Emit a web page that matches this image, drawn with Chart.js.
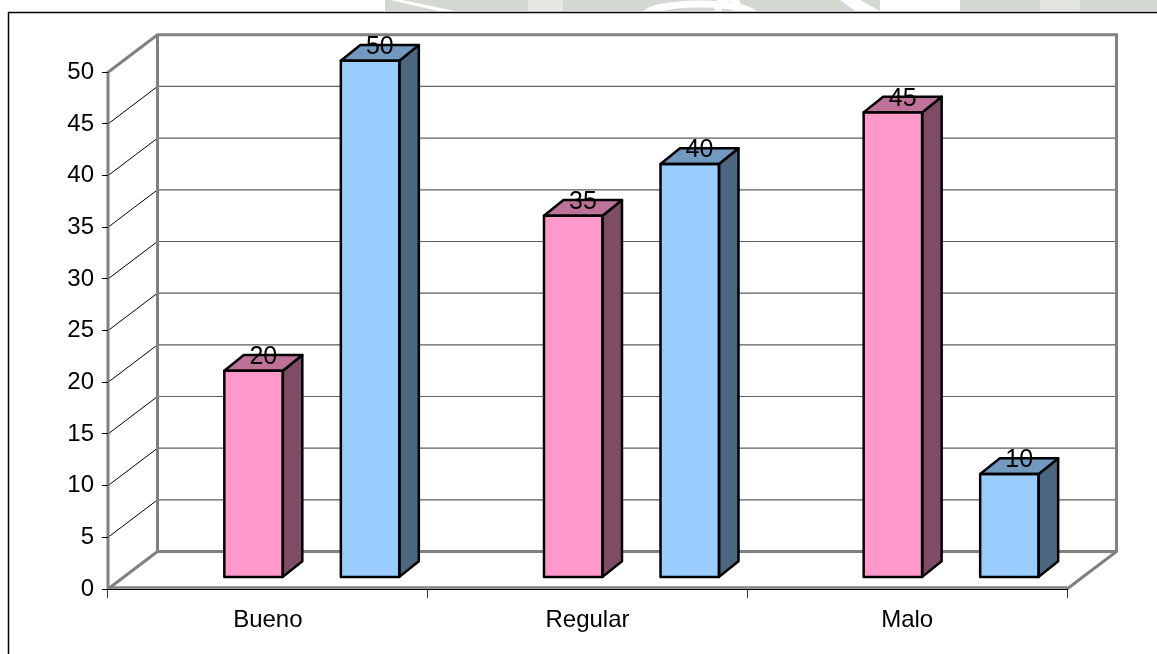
<!DOCTYPE html>
<html>
<head>
<meta charset="utf-8">
<script src="https://cdn.jsdelivr.net/npm/chart.js@4.4.0/dist/chart.umd.min.js"></script>
<style>
  html, body { margin: 0; padding: 0; background: #fff; }
  #wrap { position: relative; width: 1157px; height: 654px; }
  canvas { display: block; }
</style>
</head>
<body>
<div id="wrap"><canvas id="chart" width="1157" height="654"></canvas></div>
<script>
// Data
const categories = ['Bueno', 'Regular', 'Malo'];
const pinkValues = [20, 35, 45];
const blueValues = [50, 40, 10];
const yMin = 0;
const yMax = 50;
const yStep = 5;

// Colours: front face, side (50%) and top (75%) shades
const pinkColors = { front: '#ff99cc', side: '#7f4c66', top: '#bf7299' };
const blueColors = { front: '#99ccff', side: '#4c667f', top: '#7299bf' };

// 3D geometry (oblique projection)
const WALL_DX = 49.5;
const WALL_DY = -37.5;
const BAR_DX = 19.5;
const BAR_DY = -15.7;
const BAR_SHIFT_X = 44;
const BAR_SHIFT_Y = -11.6;
const WALL_GRAY = '#808080';

function line(ctx, x1, y1, x2, y2) {
  ctx.beginPath();
  ctx.moveTo(x1, y1);
  ctx.lineTo(x2, y2);
  ctx.stroke();
}

// faint background print showing above the frame
function drawWatermark(ctx) {
  ctx.save();
  ctx.fillStyle = '#d3d8d0';
  ctx.fillRect(385, 0, 772, 11);
  ctx.fillStyle = '#ffffff';
  ctx.beginPath();
  ctx.moveTo(390, 0); ctx.lineTo(402, 0); ctx.lineTo(455, 11); ctx.lineTo(438, 11);
  ctx.fill();
  ctx.fillStyle = '#e6e8e4';
  ctx.fillRect(528, 0, 35, 11);
  ctx.beginPath();
  ctx.ellipse(700, 16, 55, 12, 0, Math.PI, 2 * Math.PI);
  ctx.lineWidth = 7;
  ctx.strokeStyle = '#ffffff';
  ctx.stroke();
  ctx.beginPath();
  ctx.arc(728, 8, 10, 0, Math.PI * 2);
  ctx.stroke();
  ctx.fillStyle = '#ffffff';
  ctx.beginPath();
  ctx.moveTo(840, 0); ctx.lineTo(860, 0); ctx.lineTo(880, 11); ctx.lineTo(855, 11);
  ctx.fill();
  ctx.fillRect(880, 0, 80, 11);
  ctx.fillStyle = '#e2e5e0';
  ctx.fillRect(1040, 0, 40, 11);
  ctx.restore();
}

const box3d = {
  id: 'box3d',
  beforeDraw(chart) {
    const ctx = chart.ctx;
    const xs = chart.scales.x;
    const ys = chart.scales.y;
    const left = xs.left, right = xs.right;
    const y0 = ys.getPixelForValue(yMin);
    const yTop = ys.getPixelForValue(yMax);

    ctx.save();
    ctx.fillStyle = '#fff';
    ctx.fillRect(0, 0, chart.width, chart.height);
    drawWatermark(ctx);

    // outer frame
    ctx.strokeStyle = '#000';
    ctx.lineWidth = 1.5;
    line(ctx, 8, 12.5, chart.width, 12.5);
    line(ctx, 8.5, 12, 8.5, chart.height);

    // gridlines: back wall and the side-wall diagonals
    for (let v = yMin + yStep; v < yMax; v += yStep) {
      const y = ys.getPixelForValue(v);
      ctx.strokeStyle = '#5e5e5e';
      ctx.lineWidth = 1.2;
      line(ctx, left + WALL_DX, y + WALL_DY, right + WALL_DX, y + WALL_DY);
      ctx.strokeStyle = '#000';
      ctx.lineWidth = 1;
      line(ctx, left, y, left + WALL_DX, y + WALL_DY);
    }

    // wall and floor edges
    ctx.strokeStyle = WALL_GRAY;
    ctx.lineWidth = 3;
    ctx.lineJoin = 'miter';
    ctx.beginPath();
    ctx.moveTo(left, y0);
    ctx.lineTo(left, yTop);
    ctx.lineTo(left + WALL_DX, yTop + WALL_DY);
    ctx.lineTo(right + WALL_DX, yTop + WALL_DY);
    ctx.lineTo(right + WALL_DX, y0 + WALL_DY);
    ctx.lineTo(right, y0);
    ctx.stroke();
    line(ctx, left + WALL_DX, yTop + WALL_DY, left + WALL_DX, y0 + WALL_DY);
    line(ctx, left, y0, left + WALL_DX, y0 + WALL_DY);
    line(ctx, left + WALL_DX, y0 + WALL_DY, right + WALL_DX, y0 + WALL_DY);
    ctx.lineWidth = 2.5;
    line(ctx, left, y0 - 1.5, right, y0 - 1.5);
    ctx.restore();
  },
  beforeDatasetsDraw(chart) {
    chart.ctx.save();
    chart.ctx.translate(BAR_SHIFT_X, BAR_SHIFT_Y);
  },
  afterDatasetsDraw(chart) {
    const ctx = chart.ctx;
    ctx.lineWidth = 2.5;
    ctx.lineJoin = 'round';
    ctx.strokeStyle = '#000';
    chart.data.datasets.forEach((ds, i) => {
      const meta = chart.getDatasetMeta(i);
      meta.data.forEach((bar) => {
        const { x, y, base, width } = bar.getProps(['x', 'y', 'base', 'width'], true);
        const l = x - width / 2, r = x + width / 2;
        // side face
        ctx.fillStyle = ds.shade.side;
        ctx.beginPath();
        ctx.moveTo(r, y);
        ctx.lineTo(r + BAR_DX, y + BAR_DY);
        ctx.lineTo(r + BAR_DX, base + BAR_DY);
        ctx.lineTo(r, base);
        ctx.closePath();
        ctx.fill();
        ctx.stroke();
        // top face
        ctx.fillStyle = ds.shade.top;
        ctx.beginPath();
        ctx.moveTo(l, y);
        ctx.lineTo(l + BAR_DX, y + BAR_DY);
        ctx.lineTo(r + BAR_DX, y + BAR_DY);
        ctx.lineTo(r, y);
        ctx.closePath();
        ctx.fill();
        ctx.stroke();
        // front outline
        ctx.strokeRect(l, y, width, base - y);
      });
    });
    // value labels sit on the top faces
    ctx.fillStyle = '#000';
    ctx.font = '25px "Liberation Sans", Arial, sans-serif';
    ctx.textAlign = 'center';
    ctx.textBaseline = 'alphabetic';
    chart.data.datasets.forEach((ds, i) => {
      chart.getDatasetMeta(i).data.forEach((bar, j) => {
        const { x, y } = bar.getProps(['x', 'y'], true);
        ctx.fillText(String(ds.data[j]), x + BAR_DX / 2, y + BAR_DY / 2 + 1);
      });
    });
    ctx.restore();
  }
};

Chart.defaults.font.family = '"Liberation Sans", Arial, sans-serif';
Chart.defaults.color = '#000';

new Chart(document.getElementById('chart'), {
  type: 'bar',
  data: {
    labels: categories,
    datasets: [
      { data: pinkValues, backgroundColor: pinkColors.front, shade: pinkColors,
        borderWidth: 0, clip: false, categoryPercentage: 0.729, barPercentage: 0.502 },
      { data: blueValues, backgroundColor: blueColors.front, shade: blueColors,
        borderWidth: 0, clip: false, categoryPercentage: 0.729, barPercentage: 0.502 }
    ]
  },
  options: {
    responsive: false,
    animation: false,
    layout: { padding: { left: 8, top: 72.3, right: 90, bottom: 0 } },
    plugins: { legend: { display: false }, tooltip: { enabled: false } },
    scales: {
      x: {
        offset: true,
        grid: { offset: true, drawOnChartArea: false, drawTicks: true, tickLength: 9, color: '#333' },
        border: { display: true, color: '#000', width: 1 },
        ticks: { font: { size: 24 }, color: '#000', padding: 8 },
        afterFit(scale) { scale.height = 65; }
      },
      y: {
        min: yMin,
        max: yMax,
        grid: { drawOnChartArea: false, drawTicks: true, tickLength: 6, color: '#000' },
        border: { display: false },
        ticks: { stepSize: yStep, font: { size: 24 }, color: '#000', padding: 8 },
        afterFit(scale) { scale.width = 100; }
      }
    }
  },
  plugins: [box3d]
});
</script>
</body>
</html>
